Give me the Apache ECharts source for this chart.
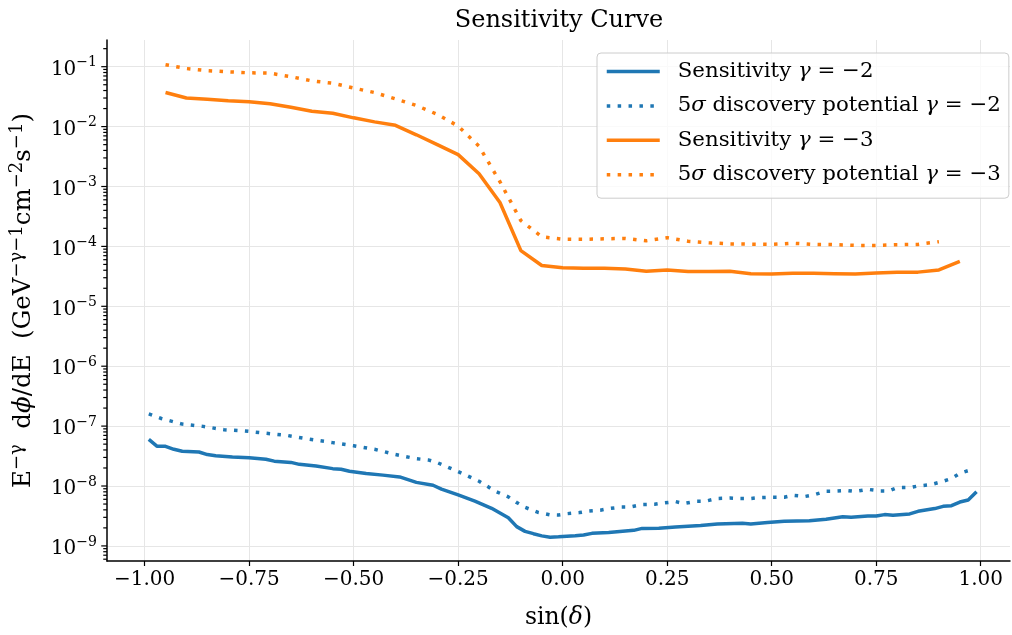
<!DOCTYPE html>
<html>
<head>
<meta charset="utf-8">
<title>Sensitivity Curve</title>
<script src="https://cdn.jsdelivr.net/npm/echarts@6/dist/echarts.min.js"></script>
<style>
  html, body { margin: 0; padding: 0; background: #fff; }
  #chart { width: 1012px; height: 635px; }
</style>
</head>
<body>
<div id="chart"></div>
<script>
// axis ranges / ticks
const X_MIN = -1.09, X_MAX = 1.07;
const Y_MIN = 5.6e-10, Y_MAX = 0.279;
const xTicks = [-1, -0.75, -0.5, -0.25, 0, 0.25, 0.5, 0.75, 1];
const yMajor = [1e-9, 1e-8, 1e-7, 1e-6, 1e-5, 1e-4, 1e-3, 1e-2, 1e-1];
const minorMult = [2, 3, 4, 5, 6, 7, 8, 9];

// Sensitivity gamma = -2
const sens2X = [-0.99, -0.97, -0.95, -0.93, -0.91, -0.87, -0.85, -0.83, -0.79, -0.75,
  -0.71, -0.69, -0.65, -0.63, -0.59, -0.55, -0.53, -0.51, -0.47, -0.43,
  -0.39, -0.35, -0.31, -0.29, -0.25, -0.21, -0.17, -0.13, -0.11, -0.09,
  -0.07, -0.05, -0.03, -0.01, 0.01, 0.03, 0.05, 0.07, 0.11, 0.17,
  0.19, 0.23, 0.27, 0.33, 0.37, 0.43, 0.45, 0.49, 0.53, 0.59,
  0.63, 0.67, 0.69, 0.73, 0.75, 0.77, 0.79, 0.83, 0.85, 0.89,
  0.91, 0.93, 0.95, 0.97, 0.99];
const sens2Y = [6.0e-8, 4.6e-8, 4.6e-8, 4.1e-8, 3.8e-8, 3.7e-8, 3.35e-8, 3.2e-8, 3.05e-8, 2.97e-8,
  2.8e-8, 2.6e-8, 2.48e-8, 2.3e-8, 2.15e-8, 1.95e-8, 1.9e-8, 1.76e-8, 1.62e-8, 1.52e-8,
  1.42e-8, 1.15e-8, 1.03e-8, 8.9e-9, 7.1e-9, 5.6e-9, 4.25e-9, 2.95e-9, 2.1e-9, 1.75e-9,
  1.6e-9, 1.47e-9, 1.4e-9, 1.42e-9, 1.45e-9, 1.48e-9, 1.52e-9, 1.62e-9, 1.68e-9, 1.82e-9,
  1.96e-9, 1.97e-9, 2.07e-9, 2.2e-9, 2.32e-9, 2.4e-9, 2.33e-9, 2.45e-9, 2.57e-9, 2.62e-9,
  2.78e-9, 3.08e-9, 3.02e-9, 3.16e-9, 3.16e-9, 3.33e-9, 3.26e-9, 3.42e-9, 3.78e-9, 4.2e-9,
  4.58e-9, 4.7e-9, 5.4e-9, 5.85e-9, 8.0e-9];

// 5 sigma discovery potential gamma = -2
const disc2X = [-0.99, -0.96, -0.91, -0.86, -0.81, -0.76, -0.71, -0.66, -0.61, -0.55,
  -0.5, -0.45, -0.4, -0.35, -0.32, -0.3, -0.25, -0.2, -0.16, -0.13,
  -0.11, -0.09, -0.06, -0.03, -0.01, 0.01, 0.04, 0.06, 0.09, 0.11,
  0.14, 0.16, 0.19, 0.22, 0.24, 0.27, 0.29, 0.32, 0.34, 0.37,
  0.4, 0.42, 0.45, 0.47, 0.5, 0.53, 0.55, 0.58, 0.6, 0.63,
  0.65, 0.68, 0.7, 0.73, 0.76, 0.78, 0.8, 0.83, 0.85, 0.88,
  0.91, 0.93, 0.95, 0.98];
const disc2Y = [1.6e-7, 1.34e-7, 1.08e-7, 9.9e-8, 8.7e-8, 8.3e-8, 7.6e-8, 7.0e-8, 6.1e-8, 5.3e-8,
  4.7e-8, 4.1e-8, 3.35e-8, 2.86e-8, 2.71e-8, 2.46e-8, 1.74e-8, 1.2e-8, 8.1e-9, 6.6e-9,
  5.3e-9, 4.4e-9, 3.65e-9, 3.3e-9, 3.28e-9, 3.45e-9, 3.6e-9, 3.8e-9, 3.95e-9, 4.2e-9,
  4.45e-9, 4.45e-9, 4.9e-9, 4.95e-9, 5.2e-9, 5.5e-9, 5.1e-9, 5.55e-9, 5.55e-9, 6.2e-9,
  6.3e-9, 6.2e-9, 6.2e-9, 6.4e-9, 6.5e-9, 6.5e-9, 7.0e-9, 6.7e-9, 7.1e-9, 8.2e-9,
  8.2e-9, 8.4e-9, 8.1e-9, 8.8e-9, 8.25e-9, 8.25e-9, 9.4e-9, 9.4e-9, 1.0e-8, 1.05e-8,
  1.2e-8, 1.33e-8, 1.63e-8, 1.9e-8];

// Sensitivity gamma = -3
const sens3X = [-0.95, -0.9, -0.85, -0.8, -0.75, -0.7, -0.65, -0.6, -0.55, -0.5,
  -0.45, -0.4, -0.35, -0.3, -0.25, -0.2, -0.15, -0.1, -0.05, 0,
  0.05, 0.1, 0.15, 0.2, 0.25, 0.3, 0.35, 0.4, 0.45, 0.5,
  0.55, 0.6, 0.65, 0.7, 0.75, 0.8, 0.85, 0.9, 0.95];
const sens3Y = [3.7e-2, 3.0e-2, 2.85e-2, 2.7e-2, 2.6e-2, 2.4e-2, 2.1e-2, 1.8e-2, 1.67e-2, 1.4e-2,
  1.2e-2, 1.05e-2, 7.3e-3, 5.0e-3, 3.4e-3, 1.63e-3, 5.4e-4, 8.5e-5, 4.8e-5, 4.4e-5,
  4.3e-5, 4.3e-5, 4.2e-5, 3.85e-5, 4.05e-5, 3.8e-5, 3.8e-5, 3.85e-5, 3.5e-5, 3.45e-5,
  3.55e-5, 3.55e-5, 3.5e-5, 3.45e-5, 3.6e-5, 3.7e-5, 3.72e-5, 4.05e-5, 5.6e-5];

// 5 sigma discovery potential gamma = -3
const disc3X = [-0.95, -0.9, -0.85, -0.8, -0.75, -0.7, -0.65, -0.6, -0.55, -0.5,
  -0.45, -0.4, -0.35, -0.3, -0.25, -0.2, -0.15, -0.1, -0.05, 0,
  0.05, 0.1, 0.15, 0.2, 0.25, 0.3, 0.35, 0.4, 0.45, 0.5,
  0.55, 0.6, 0.65, 0.7, 0.75, 0.8, 0.85, 0.9];
const disc3Y = [0.108, 9.3e-2, 8.6e-2, 8.2e-2, 7.9e-2, 7.8e-2, 6.8e-2, 5.8e-2, 5.3e-2, 4.4e-2,
  3.7e-2, 2.9e-2, 2.25e-2, 1.6e-2, 1.02e-2, 4.7e-3, 1.2e-3, 2.7e-4, 1.45e-4, 1.32e-4,
  1.31e-4, 1.34e-4, 1.36e-4, 1.24e-4, 1.4e-4, 1.22e-4, 1.15e-4, 1.1e-4, 1.09e-4, 1.08e-4,
  1.13e-4, 1.08e-4, 1.07e-4, 1.04e-4, 1.04e-4, 1.07e-4, 1.08e-4, 1.2e-4];

const names = [
  'Sensitivity γ = −2',
  '5σ discovery potential γ = −2',
  'Sensitivity γ = −3',
  '5σ discovery potential γ = −3'
];

const BLUE = '#1f77b4', ORANGE = '#ff7f0e';
const FONT = '"DejaVu Serif", serif';
const DOTS = [3.5, 7.4];
const LEG_FS = 21.3;

const zip = (xs, ys) => xs.map((x, i) => [x, ys[i]]);

// y tick marks (major + minor), drawn on the left of the y axis
const yTickMarks = [];
yMajor.forEach(v => yTickMarks.push([X_MIN, v, 5]));
for (let e = -10; e <= -1; e++) {
  minorMult.forEach(m => {
    const v = m * Math.pow(10, e);
    if (v > Y_MIN && v < Y_MAX) yTickMarks.push([X_MIN, v, 3]);
  });
}

const fmtX = v => (v < 0 ? '−' : '') + Math.abs(v).toFixed(2);
const fmtY = v => {
  const e = Math.log10(v);
  const r = Math.round(e);
  if (Math.abs(e - r) > 1e-6) return '';
  return '{b|10}{s|' + (r < 0 ? '−' : '') + Math.abs(r) + '}';
};
const fmtLegend = n => '{pad| }' + n.replace('γ', '{i|γ}').replace('σ', '{i|σ}');

const chart = echarts.init(document.getElementById('chart'));
chart.setOption({
  animation: false,
  backgroundColor: '#fff',
  textStyle: { fontFamily: FONT, color: '#000' },
  title: {
    text: 'Sensitivity Curve',
    left: 559,
    textAlign: 'center',
    top: 9,
    padding: 0,
    textStyle: { fontFamily: FONT, fontSize: 24, fontWeight: 'normal', color: '#000' }
  },
  grid: { left: 106, right: 2, top: 40, bottom: 73, containLabel: false },
  legend: {
    data: names,
    orient: 'vertical',
    left: 597,
    top: 53,
    padding: [6, 8, 11, 8],
    itemWidth: 53,
    itemHeight: 14,
    itemGap: 9.4,
    backgroundColor: 'rgba(255,255,255,0.8)',
    borderColor: '#cccccc',
    borderWidth: 1,
    borderRadius: 4,
    itemStyle: { opacity: 0 },
    lineStyle: { width: 3.5 },
    formatter: fmtLegend,
    textStyle: {
      fontFamily: FONT, fontSize: LEG_FS, lineHeight: 25, color: '#000',
      rich: {
        pad: { width: 13, fontSize: LEG_FS },
        i: { fontStyle: 'italic', fontFamily: FONT, fontSize: LEG_FS }
      }
    }
  },
  xAxis: {
    type: 'value',
    min: X_MIN,
    max: X_MAX,
    name: 'sin({i|δ})',
    nameLocation: 'middle',
    nameGap: 45,
    nameTextStyle: {
      fontFamily: FONT, fontSize: 23.5, color: '#000',
      rich: { i: { fontStyle: 'italic', fontFamily: FONT, fontSize: 23.5 } }
    },
    axisLine: { onZero: false, lineStyle: { color: '#000', width: 1.5 } },
    axisTick: { customValues: xTicks, length: 5, lineStyle: { color: '#000', width: 1.2 } },
    axisLabel: { customValues: xTicks, formatter: fmtX, fontFamily: FONT, fontSize: 20, color: '#000', margin: 9 },
    splitLine: { show: true, customValues: xTicks, lineStyle: { color: '#e6e6e6', width: 1 } }
  },
  yAxis: {
    type: 'log',
    min: Y_MIN,
    max: Y_MAX,
    splitNumber: 10,
    name: 'E{sup|−γ}  d{i|ϕ}/dE  (GeV{sup|−γ−1}cm{sup|−2}s{sup|−1})',
    nameLocation: 'middle',
    nameGap: 63,
    nameTextStyle: {
      fontFamily: FONT, fontSize: 24.5, color: '#000', lineHeight: 32,
      rich: {
        sup: { fontFamily: FONT, fontSize: 18, lineHeight: 12, verticalAlign: 'top' },
        i: { fontFamily: FONT, fontSize: 24.5, fontStyle: 'italic', lineHeight: 32 }
      }
    },
    axisLine: { onZero: false, lineStyle: { color: '#000', width: 1.5 } },
    axisTick: { show: false },
    axisLabel: {
      formatter: fmtY,
      margin: 10,
      padding: [6, 0, 0, 0],
      rich: {
        b: { fontFamily: FONT, fontSize: 20, lineHeight: 28, color: '#000' },
        s: { fontFamily: FONT, fontSize: 14, lineHeight: 10, verticalAlign: 'top', color: '#000' }
      }
    },
    splitLine: { show: true, showMinLine: false, showMaxLine: false, lineStyle: { color: '#e6e6e6', width: 1 } }
  },
  series: [
    {
      name: names[0], type: 'line', data: zip(sens2X, sens2Y),
      symbol: 'none', showSymbol: false, color: BLUE,
      lineStyle: { color: BLUE, width: 3.5 }, z: 3
    },
    {
      name: names[1], type: 'line', data: zip(disc2X, disc2Y),
      symbol: 'none', showSymbol: false, color: BLUE,
      lineStyle: { color: BLUE, width: 3.5, type: DOTS, cap: 'butt' }, z: 3
    },
    {
      name: names[2], type: 'line', data: zip(sens3X, sens3Y),
      symbol: 'none', showSymbol: false, color: ORANGE,
      lineStyle: { color: ORANGE, width: 3.5 }, z: 3
    },
    {
      name: names[3], type: 'line', data: zip(disc3X, disc3Y),
      symbol: 'none', showSymbol: false, color: ORANGE,
      lineStyle: { color: ORANGE, width: 3.5, type: DOTS, cap: 'butt' }, z: 3
    },
    {
      name: 'yticks', type: 'custom', data: yTickMarks, clip: false, silent: true,
      encode: { x: 0, y: 1 },
      renderItem: (params, api) => {
        const p = api.coord([api.value(0), api.value(1)]);
        const len = api.value(2);
        return {
          type: 'line',
          shape: { x1: p[0] - len - 0.75, y1: p[1], x2: p[0], y2: p[1] },
          style: { stroke: '#000', lineWidth: 1.2 }
        };
      }
    }
  ]
});
</script>
</body>
</html>
